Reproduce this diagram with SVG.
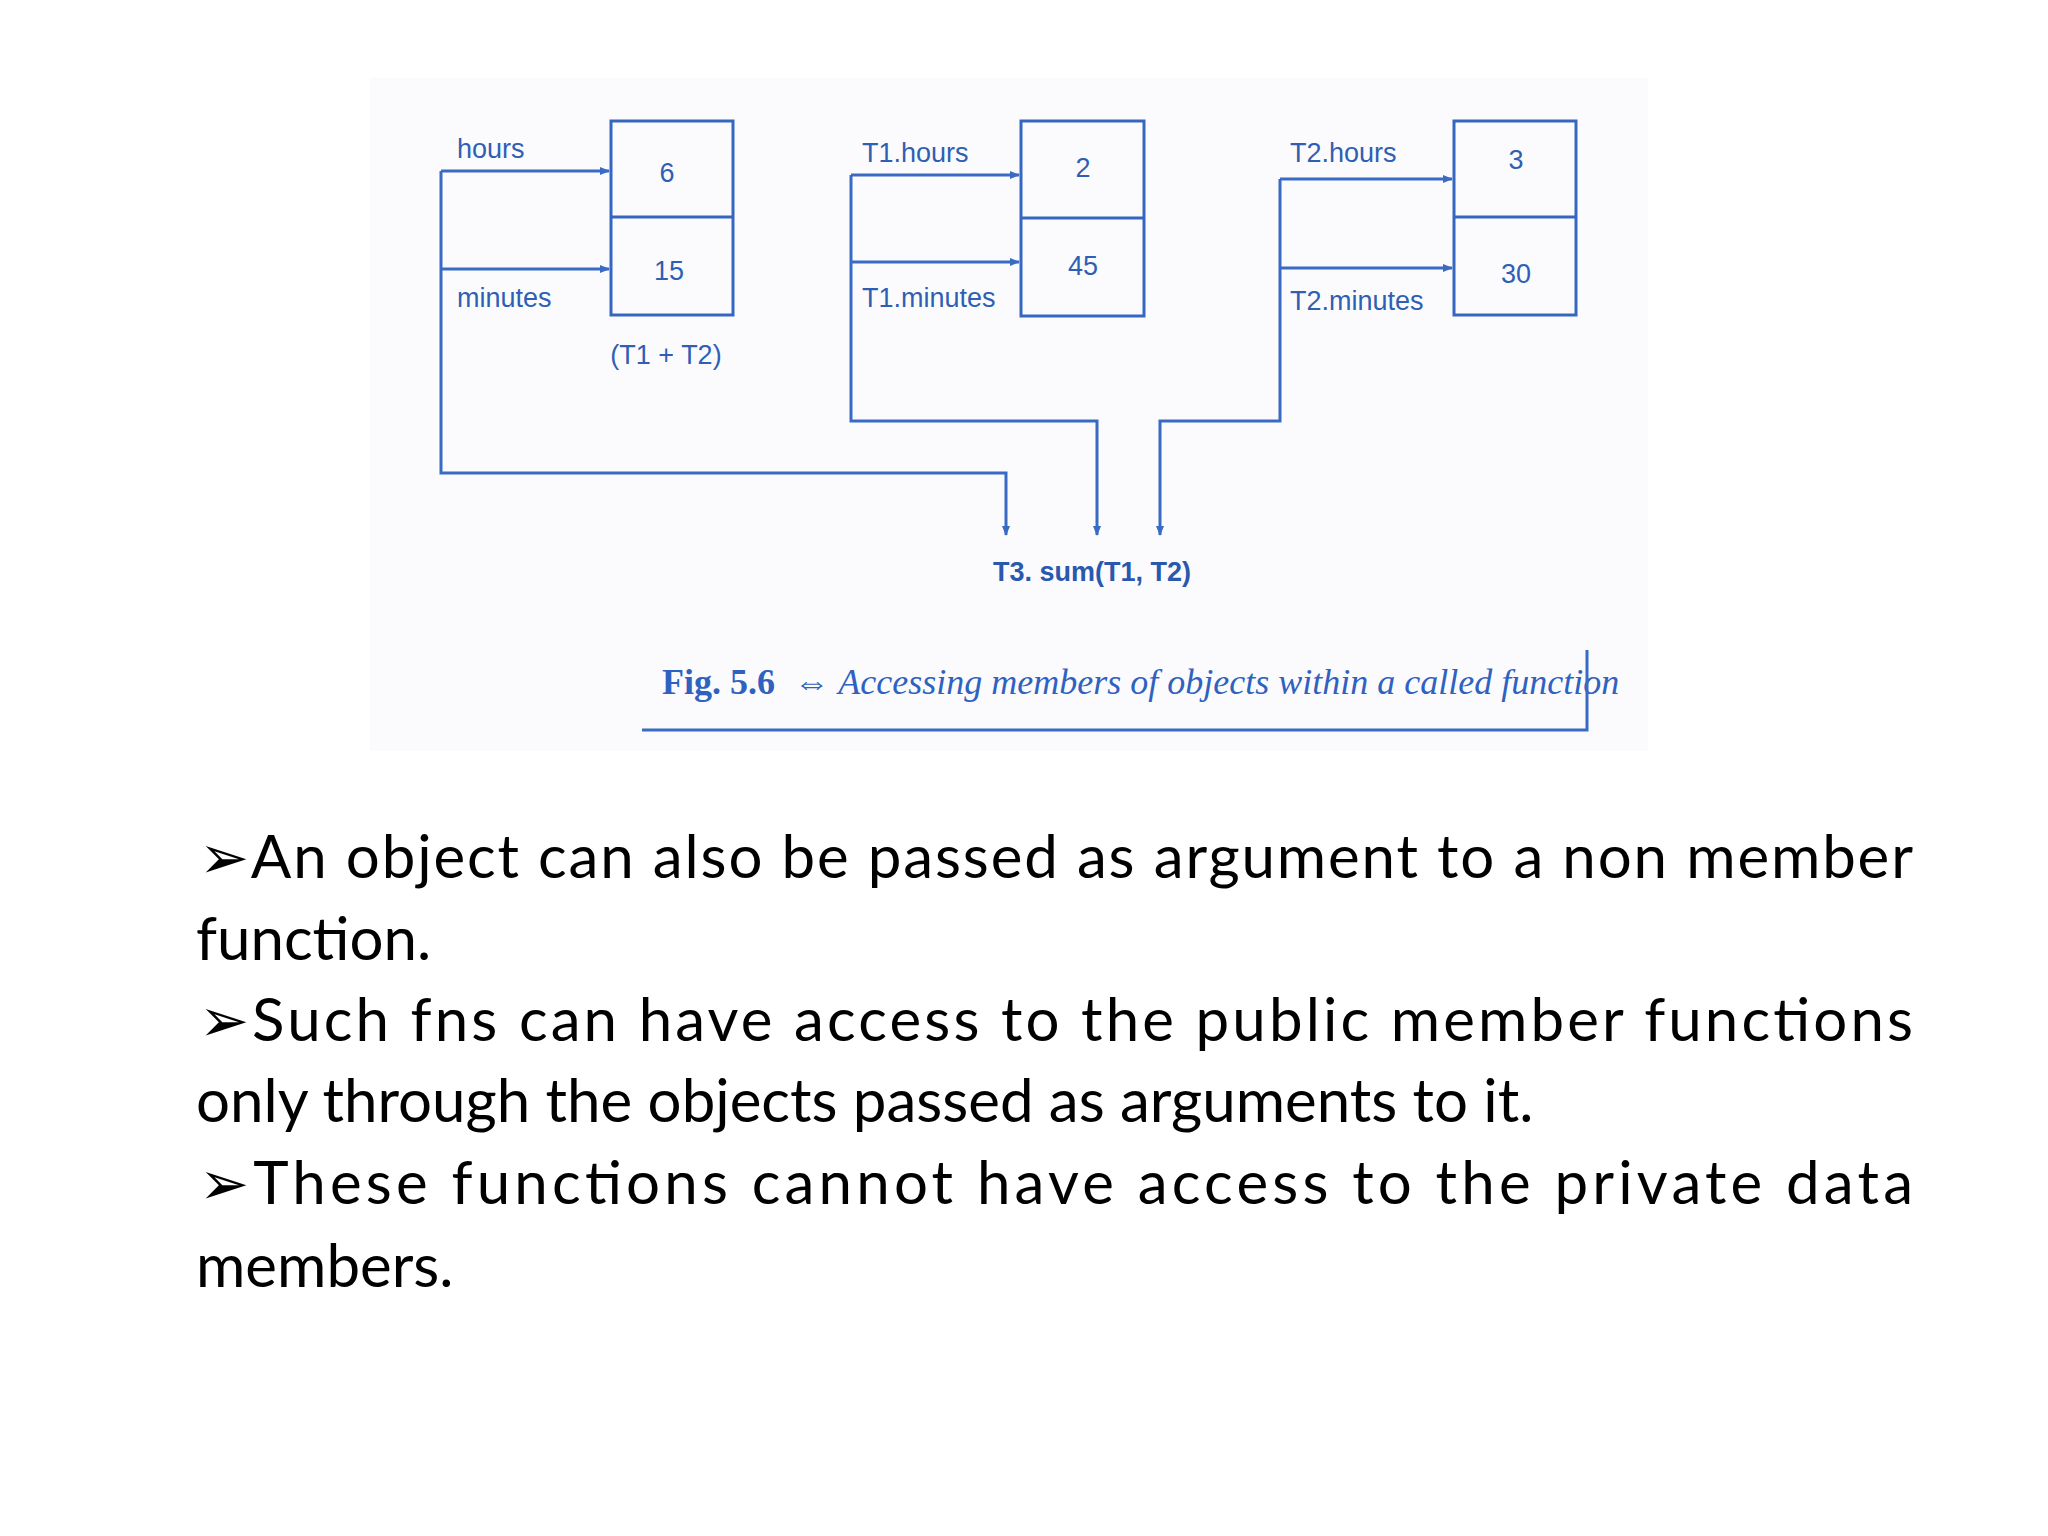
<svg xmlns="http://www.w3.org/2000/svg" width="2048" height="1536" viewBox="0 0 2048 1536">
<style>
.box{fill:none;stroke:#3566c0;stroke-width:3}
.ln{fill:none;stroke:#3a6bc4;stroke-width:3}
.lb{font-family:"Liberation Sans",Arial,sans-serif;font-size:27px;fill:#2f5fb5}
.bd{font-family:"Liberation Sans",Arial,sans-serif;font-size:27px;fill:#2a58ad;font-weight:bold}
.cap{font-family:"Liberation Serif",serif;font-size:36px;fill:#2f62c0;font-style:italic}
.body{font-family:Lato,"Open Sans",sans-serif;font-size:60px;fill:#000}
</style>
<defs>
<marker id="ah" markerWidth="10" markerHeight="8" refX="9" refY="4" orient="auto" markerUnits="userSpaceOnUse"><path d="M0,0 L10,4 L0,8 z" fill="#3a6bc4"/></marker>
</defs>
<rect width="2048" height="1536" fill="#fff"/>
<rect x="370" y="78" width="1278" height="673" fill="#fbfbfd"/>
<g id="obj3">
<rect class="box" x="611" y="121" width="122" height="194"/><line class="box" x1="611" y1="217" x2="733" y2="217"/>
<text class="lb" x="667" y="182" text-anchor="middle">6</text><text class="lb" x="669" y="280" text-anchor="middle">15</text>
<text class="lb" x="666" y="364" text-anchor="middle">(T1 + T2)</text>
<text class="lb" x="457" y="158">hours</text><text class="lb" x="457" y="307">minutes</text>
</g>
<g id="obj1">
<rect class="box" x="1021" y="121" width="123" height="195"/><line class="box" x1="1021" y1="218" x2="1144" y2="218"/>
<text class="lb" x="1083" y="177" text-anchor="middle">2</text><text class="lb" x="1083" y="275" text-anchor="middle">45</text>
<text class="lb" x="862" y="162">T1.hours</text><text class="lb" x="862" y="307">T1.minutes</text>
</g>
<g id="obj2">
<rect class="box" x="1454" y="121" width="122" height="194"/><line class="box" x1="1454" y1="217" x2="1576" y2="217"/>
<text class="lb" x="1516" y="169" text-anchor="middle">3</text><text class="lb" x="1516" y="283" text-anchor="middle">30</text>
<text class="lb" x="1290" y="162">T2.hours</text><text class="lb" x="1290" y="310">T2.minutes</text>
</g>
<g id="call"><text class="bd" x="1092" y="581" text-anchor="middle">T3. sum(T1,  T2)</text></g>
<g id="connectors">
<path class="ln" d="M441,171 H609" marker-end="url(#ah)"/>
<path class="ln" d="M441,269 H609" marker-end="url(#ah)"/>
<path class="ln" d="M441,171 V473 H1006 V535" marker-end="url(#ah)"/>
<path class="ln" d="M851,175 H1019" marker-end="url(#ah)"/>
<path class="ln" d="M851,262 H1019" marker-end="url(#ah)"/>
<path class="ln" d="M851,175 V421 H1097 V535" marker-end="url(#ah)"/>
<path class="ln" d="M1280,179 H1452" marker-end="url(#ah)"/>
<path class="ln" d="M1280,268 H1452" marker-end="url(#ah)"/>
<path class="ln" d="M1280,179 V421 H1160 V535" marker-end="url(#ah)"/>
</g>
<g id="caption">
<text class="cap" x="662" y="694" style="font-style:normal;font-weight:bold">Fig. 5.6</text>
<text class="cap" x="794" y="694">⇔ Accessing members of objects within a called function</text>
<path class="ln" d="M642,730 H1587 V650" stroke-width="4"/>
</g>
<g id="bullets">
<text class="body" x="199" y="878" textLength="1714" lengthAdjust="spacing">➢An object can also be passed as argument to a non member</text>
<text class="body" x="196" y="960">function.</text>
<text class="body" x="199" y="1041" textLength="1714" lengthAdjust="spacing">➢Such fns can have access to the public member functions</text>
<text class="body" x="196" y="1122">only through the objects passed as arguments to it.</text>
<text class="body" x="199" y="1204" textLength="1714" lengthAdjust="spacing">➢These functions cannot have access to the private data</text>
<text class="body" x="196" y="1287">members.</text>
</g>
</svg>
